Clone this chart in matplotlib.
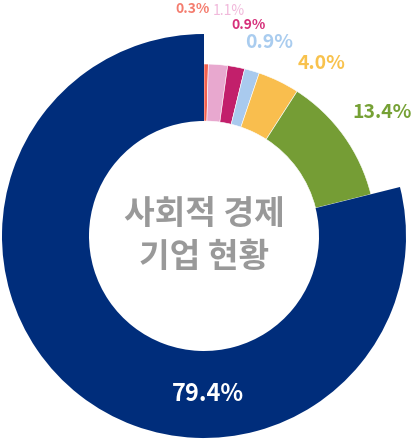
import matplotlib
matplotlib.use('Agg')
import matplotlib.pyplot as plt

plt.rcParams['font.family'] = ['Noto Sans CJK KR', 'DejaVu Sans']

# slice sizes as drawn in the picture (small slices are drawn a bit larger than their labels)
shares = [0.4, 1.8, 1.6, 1.4, 3.9, 12.0, 78.9]
labels = ['0.3%', '1.1%', '0.9%', '0.9%', '4.0%', '13.4%', '79.4%']
colors = ['#F2604F', '#E8A8CF', '#C21F6B', '#A9CAEE', '#F9BE4E', '#759D35', '#002D7B']
label_colors = ['#F47C6E', '#F1B9DB', '#D62F7A', '#A9CCEF', '#F8C24D', '#76A135', '#FFFFFF']
title = '사회적 경제\n기업 현황'

W, H = 413, 440
fig = plt.figure(figsize=(W / 100, H / 100), dpi=100)
ax = fig.add_axes([0, 0, 1, 1])

cx, cy = 204, H - 236
r_in, r_out, r_big = 115, 172, 202

wedges, _ = ax.pie(shares, colors=colors, startangle=90, counterclock=False,
                   radius=r_out, center=(cx, cy), frame=True,
                   wedgeprops=dict(width=r_out - r_in, linewidth=0.4, edgecolor='white'))
# the big slice sticks out further
wedges[-1].set_radius(r_big)
wedges[-1].set_width(r_big - r_in)
wedges[-1].set_linewidth(0)
ax.set_xlim(0, W)
ax.set_ylim(0, H)
ax.set_aspect('equal')
ax.axis('off')

# label spots (pixels from top-left), sizes, weights
spots = [(193, 9), (229, 11), (249, 25), (269, 42), (322, 63), (382, 112), (208, 394)]
sizes = [10, 10, 10, 14, 14, 14, 17]
weights = ['bold', 'normal', 'bold', 'bold', 'bold', 'bold', 'bold']
for lab, col, (px, py), s, w in zip(labels, label_colors, spots, sizes, weights):
    ax.text(px, H - py, lab, color=col, fontsize=s, fontweight=w,
            ha='center', va='center')

ax.text(cx, cy, title, color='#999999', fontsize=24, fontweight='bold',
        ha='center', va='center', linespacing=1.35)

fig.savefig('out.png', dpi=100)
